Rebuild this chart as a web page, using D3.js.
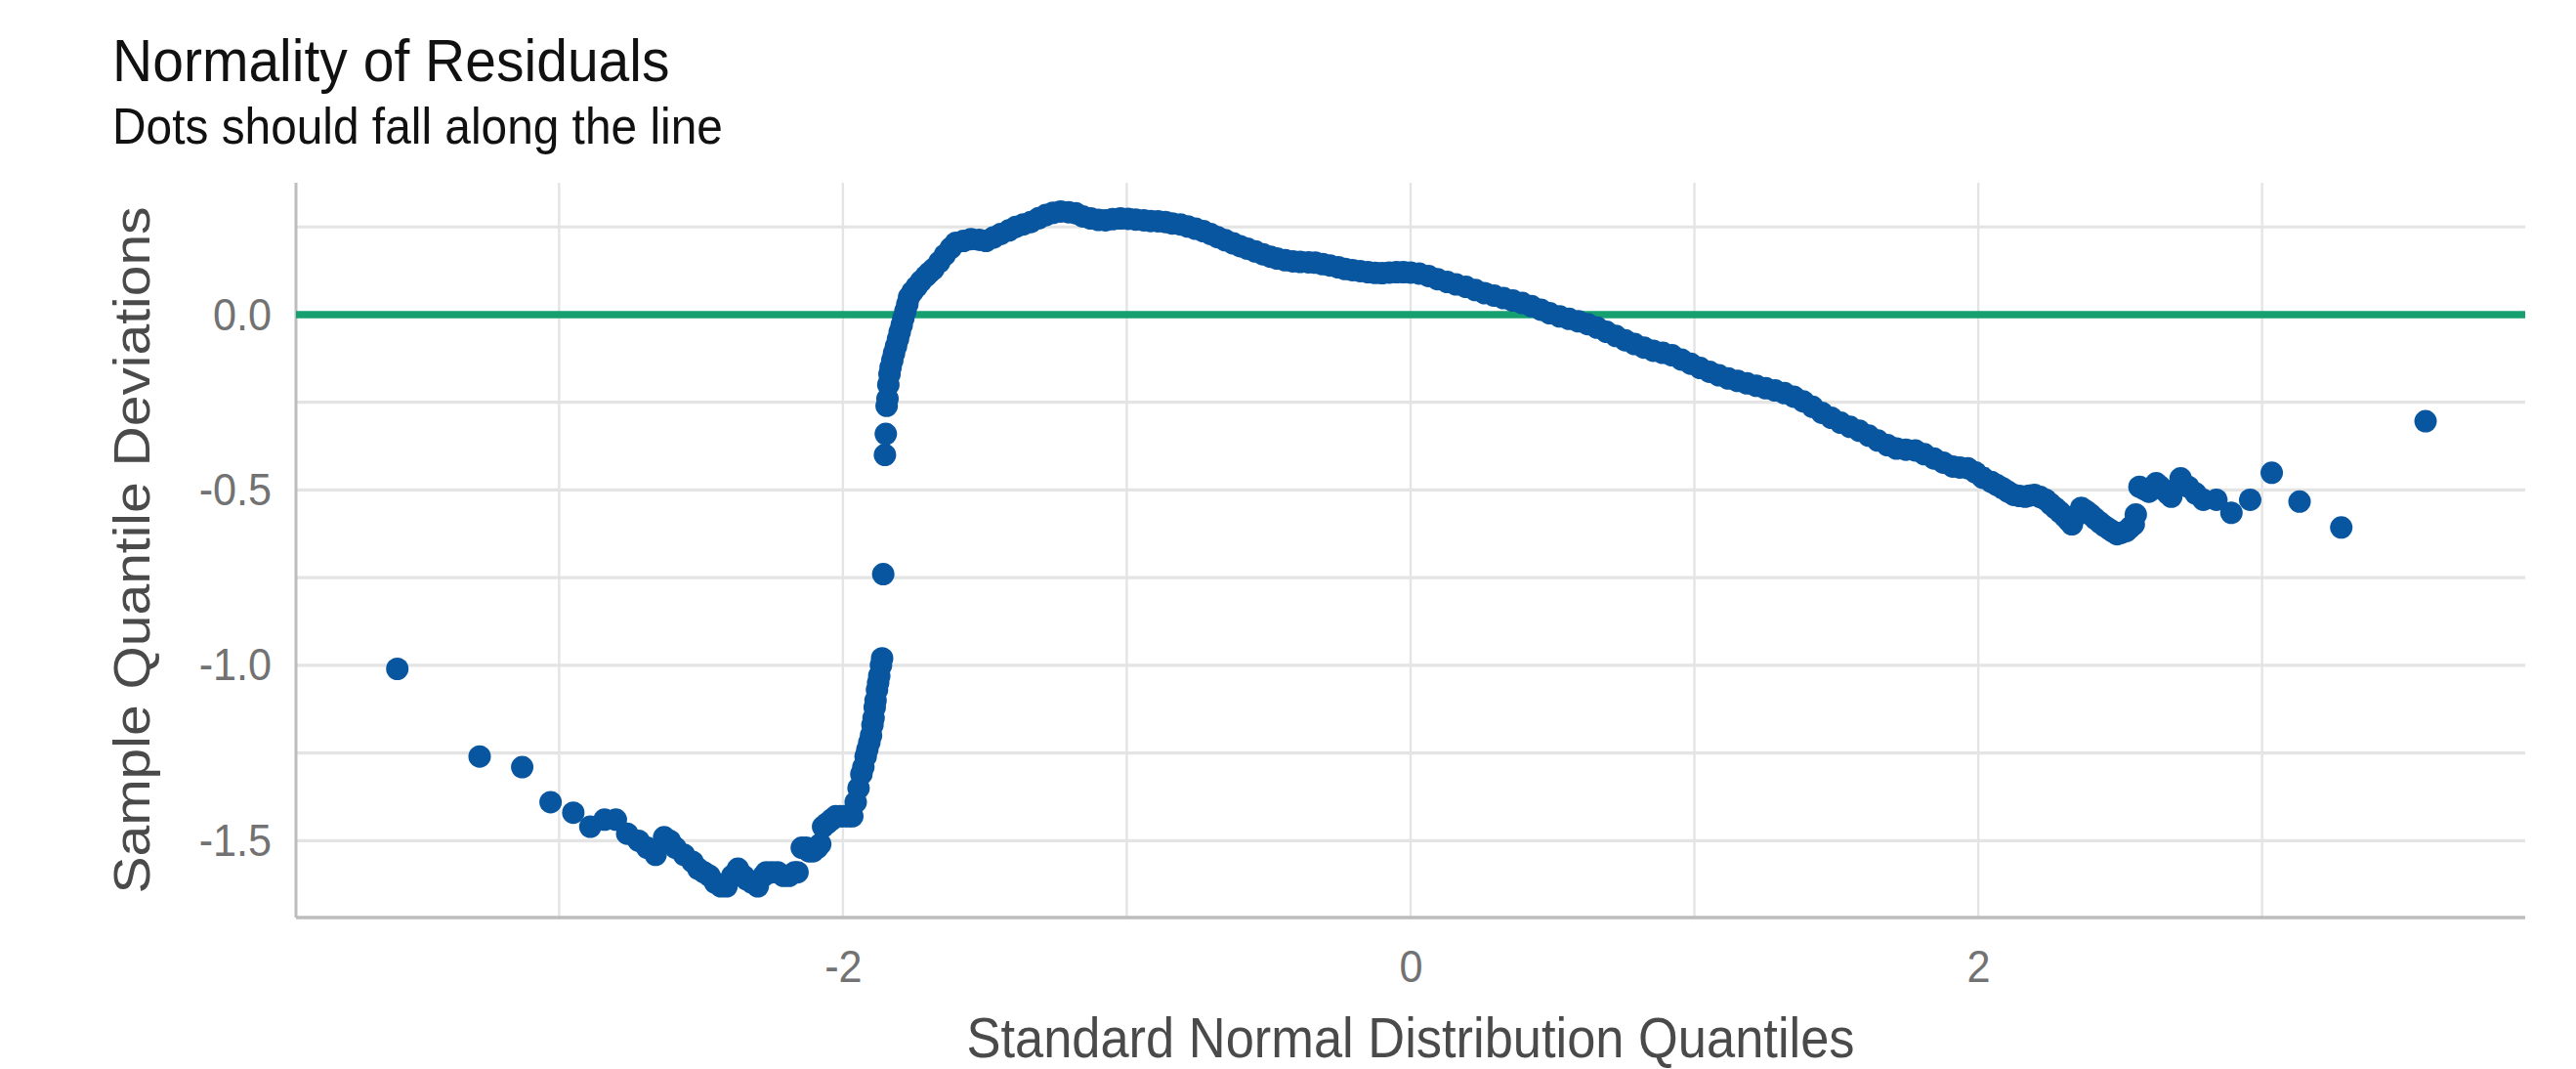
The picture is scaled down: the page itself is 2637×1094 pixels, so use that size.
<!DOCTYPE html>
<html>
<head>
<meta charset="utf-8">
<script src="https://cdn.jsdelivr.net/npm/d3@7"></script>
<style>
  body { margin: 0; background: #fff; }
  text { font-family: "Liberation Sans", Arial, Helvetica, sans-serif; }
</style>
</head>
<body>
<div id="chart"></div>
<script>
// theoretical quantiles (x) and sample quantile deviations (y)
var qx = [-3.57, -3.28, -3.13, -3.03, -2.95, -2.89, -2.84, -2.80, -2.76, -2.72, -2.69, -2.66,
  -2.63, -2.61, -2.59, -2.56, -2.53, -2.51, -2.49, -2.47, -2.45, -2.43, -2.41, -2.39, -2.37,
  -2.35, -2.34, -2.32, -2.30, -2.28, -2.27, -2.25, -2.23, -2.21, -2.19, -2.17, -2.16, -2.145,
  -2.13, -2.12, -2.105, -2.09, -2.08, -2.07, -2.055, -2.04, -2.025, -2.01, -1.995, -1.98,
  -1.967, -1.955, -1.945, -1.935, -1.928, -1.92, -1.914, -1.907, -1.901, -1.896, -1.892,
  -1.888, -1.885, -1.88, -1.876, -1.872, -1.866, -1.862, -1.858, -1.852, -1.849, -1.846,
  -1.843, -1.84, -1.836, -1.832, -1.826, -1.82, -1.813, -1.806, -1.80, -1.793, -1.787, -1.78,
  -1.773, -1.767, -1.755, -1.74, -1.725, -1.707, -1.695, -1.681, -1.66, -1.641, -1.62, -1.602,
  -1.575, -1.549, -1.52, -1.496, -1.47, -1.444, -1.415, -1.391, -1.365, -1.338, -1.31, -1.285,
  -1.26, -1.233, -1.205, -1.18, -1.155, -1.127, -1.10, -1.075, -1.05, -1.022, -0.995, -0.969,
  -0.94, -0.916, -0.89, -0.864, -0.84, -0.811, -0.785, -0.758, -0.73, -0.705, -0.68, -0.653,
  -0.625, -0.60, -0.575, -0.547, -0.52, -0.494, -0.47, -0.442, -0.415, -0.389, -0.36, -0.336,
  -0.31, -0.284, -0.255, -0.231, -0.205, -0.178, -0.15, -0.125, -0.10, -0.075, -0.05, -0.025,
  0.0, 0.03, 0.063, 0.095, 0.129, 0.16, 0.195, 0.228, 0.261, 0.294, 0.327, 0.36, 0.393, 0.426,
  0.459, 0.49, 0.525, 0.558, 0.591, 0.624, 0.657, 0.69, 0.723, 0.756, 0.789, 0.822, 0.855,
  0.888, 0.921, 0.954, 0.987, 1.02, 1.053, 1.086, 1.119, 1.152, 1.185, 1.218, 1.251, 1.284,
  1.317, 1.35, 1.383, 1.416, 1.449, 1.482, 1.515, 1.548, 1.581, 1.614, 1.646, 1.68, 1.712,
  1.745, 1.778, 1.81, 1.844, 1.877, 1.91, 1.935, 1.963, 1.99, 2.016, 2.046, 2.066, 2.086,
  2.105, 2.125, 2.145, 2.165, 2.18, 2.198, 2.218, 2.238, 2.255, 2.271, 2.288, 2.304, 2.318,
  2.33, 2.345, 2.363, 2.38, 2.396, 2.412, 2.429, 2.445, 2.462, 2.475, 2.489, 2.505, 2.522,
  2.535, 2.548, 2.555, 2.568, 2.585, 2.601, 2.614, 2.627, 2.64, 2.654, 2.668, 2.68, 2.713,
  2.74, 2.766, 2.793, 2.839, 2.892, 2.958, 3.034, 3.132, 3.279, 3.576];

var qy = [-1.01, -1.26, -1.29, -1.39, -1.42, -1.46, -1.44, -1.44, -1.48, -1.50, -1.52, -1.54,
  -1.49, -1.50, -1.52, -1.54, -1.56, -1.58, -1.59, -1.60, -1.62, -1.63, -1.63, -1.60, -1.58,
  -1.60, -1.61, -1.62, -1.63, -1.60, -1.59, -1.59, -1.59, -1.60, -1.60, -1.59, -1.59, -1.52,
  -1.52, -1.53, -1.53, -1.52, -1.51, -1.46, -1.45, -1.44, -1.43, -1.43, -1.43, -1.43,
  -1.43, -1.39, -1.35, -1.31, -1.29, -1.26, -1.24, -1.22, -1.20, -1.17, -1.15,
  -1.12, -1.10, -1.07, -1.05, -1.03, -1.00, -0.98, -0.74, -0.40, -0.34, -0.26,
  -0.24, -0.20, -0.17, -0.15, -0.13, -0.11, -0.09, -0.07, -0.05, -0.03, -0.01, 0.01,
  0.03, 0.05, 0.065, 0.08, 0.095, 0.11, 0.12, 0.13, 0.15, 0.17, 0.19, 0.205,
  0.21, 0.215, 0.213, 0.21, 0.22, 0.23, 0.24, 0.25, 0.257, 0.264, 0.275, 0.284,
  0.29, 0.294, 0.292, 0.289, 0.28, 0.274, 0.27, 0.269, 0.272, 0.274, 0.273, 0.271,
  0.269, 0.267, 0.266, 0.264, 0.26, 0.257, 0.251, 0.245, 0.238, 0.23, 0.221, 0.212,
  0.203, 0.195, 0.188, 0.18, 0.172, 0.165, 0.16, 0.155, 0.152, 0.15, 0.149, 0.148,
  0.144, 0.14, 0.135, 0.13, 0.127, 0.124, 0.121, 0.119, 0.118, 0.12, 0.121, 0.121,
  0.12, 0.117, 0.11, 0.101, 0.093, 0.086, 0.079, 0.07, 0.061, 0.054, 0.047, 0.04, 0.033, 0.024,
  0.014, 0.004, -0.005, -0.012, -0.019, -0.027, -0.037, -0.049, -0.061, -0.073, -0.084, -0.094, -0.103,
  -0.109, -0.116, -0.128, -0.14, -0.152, -0.163, -0.173, -0.182, -0.189, -0.196, -0.203, -0.21, -0.216,
  -0.224, -0.234, -0.247, -0.263, -0.28, -0.294, -0.308, -0.32, -0.331, -0.345, -0.359, -0.372, -0.382,
  -0.385, -0.387, -0.398, -0.41, -0.422, -0.433, -0.436, -0.438, -0.45, -0.465, -0.477, -0.486, -0.495,
  -0.505, -0.514, -0.517, -0.519, -0.516, -0.514, -0.52, -0.528, -0.54, -0.551, -0.563, -0.575, -0.587,
  -0.598, -0.573, -0.551, -0.56, -0.57, -0.582, -0.593, -0.603, -0.612, -0.619, -0.626, -0.622, -0.617,
  -0.607, -0.598, -0.57, -0.491, -0.498, -0.505, -0.493, -0.481, -0.49, -0.5, -0.51, -0.519, -0.467,
  -0.491, -0.51, -0.528, -0.528, -0.565, -0.528, -0.451, -0.533, -0.607, -0.304];

var xTicks = [-2, 0, 2];
var xMinor = [-3, -1, 1, 3];
var yTicks = [-1.5, -1.0, -0.5, 0.0];
var yMinor = [-1.25, -0.75, -0.25, 0.25];
var refLine = [0];

var titleText = "Normality of Residuals";
var subtitleText = "Dots should fall along the line";
var xTitle = "Standard Normal Distribution Quantiles";
var yTitle = "Sample Quantile Deviations";

//chart setup
var svgWidth = 2637;
var svgHeight = 1094;
var margin = { top: 187, right: 52, bottom: 155, left: 303 };
var width = svgWidth - margin.left - margin.right;
var height = svgHeight - margin.top - margin.bottom;
var squash = "scale(0.92,1)";

var points = qx.map(function(d, i) { return { x: d, y: qy[i] }; });

var svg = d3.select("#chart")
  .append("svg")
  .attr("width", svgWidth)
  .attr("height", svgHeight);

var chartGroup = svg.append("g")
  .attr("transform", `translate(${margin.left}, ${margin.top})`);

var xScale = d3.scaleLinear().domain([-3.927, 3.927]).range([0, width]);
var yScale = d3.scaleLinear().domain([-1.719, 0.376]).range([height, 0]);

// grid
chartGroup.selectAll(".hgrid")
  .data(yTicks.concat(yMinor))
  .enter().append("line")
  .attr("x1", 0).attr("x2", width)
  .attr("y1", d => yScale(d)).attr("y2", d => yScale(d))
  .attr("stroke", "#e4e4e4").attr("stroke-width", 3.2);

chartGroup.selectAll(".vgrid")
  .data(xTicks.concat(xMinor))
  .enter().append("line")
  .attr("x1", d => xScale(d)).attr("x2", d => xScale(d))
  .attr("y1", 0).attr("y2", height)
  .attr("stroke", "#e4e4e4").attr("stroke-width", 2.4);

// axes (labels only, lines drawn below)
var bottomAxis = d3.axisBottom(xScale)
  .tickValues(xTicks).tickSize(0).tickPadding(33)
  .tickFormat(d => String(d));
var leftAxis = d3.axisLeft(yScale)
  .tickValues(yTicks).tickSize(0).tickPadding(27)
  .tickFormat(d => d.toFixed(1));

var xAxis = chartGroup.append("g")
  .attr("transform", `translate(0, ${height})`)
  .call(bottomAxis);
var yAxis = chartGroup.append("g").call(leftAxis);

[xAxis, yAxis].forEach(function(ax) {
  ax.select(".domain").remove();
  ax.selectAll("text")
    .attr("font-size", 47)
    .attr("fill", "#727272")
    .attr("font-family", "Liberation Sans, Arial, sans-serif")
    .attr("transform", squash);
});

// axis lines
chartGroup.append("line")
  .attr("x1", 0).attr("x2", 0).attr("y1", 0).attr("y2", height)
  .attr("stroke", "#bdbdbd").attr("stroke-width", 3);
chartGroup.append("line")
  .attr("x1", 0).attr("x2", width).attr("y1", height).attr("y2", height)
  .attr("stroke", "#bdbdbd").attr("stroke-width", 3.5);

// reference line
chartGroup.selectAll(".ref")
  .data(refLine)
  .enter().append("line")
  .attr("x1", 0).attr("x2", width)
  .attr("y1", d => yScale(d)).attr("y2", d => yScale(d))
  .attr("stroke", "#17a06f").attr("stroke-width", 7.5);

// dots
chartGroup.selectAll("circle")
  .data(points)
  .enter().append("circle")
  .attr("cx", d => xScale(d.x))
  .attr("cy", d => yScale(d.y))
  .attr("r", 11.5)
  .attr("fill", "#0956a0");

// titles
svg.append("text")
  .attr("transform", `translate(115, 83) ${squash}`)
  .attr("font-size", 62).attr("fill", "#111")
  .text(titleText);
svg.append("text")
  .attr("transform", `translate(115, 147) ${squash}`)
  .attr("font-size", 52).attr("fill", "#111")
  .text(subtitleText);

svg.append("text")
  .attr("transform", `translate(${margin.left + width / 2}, 1082) ${squash}`)
  .attr("text-anchor", "middle")
  .attr("font-size", 57).attr("fill", "#4a4a4a")
  .text(xTitle);

svg.append("text")
  .attr("transform", `translate(153, ${margin.top + height / 2}) rotate(-90) scale(1,0.92)`)
  .attr("text-anchor", "middle")
  .attr("font-size", 57).attr("fill", "#4a4a4a")
  .text(yTitle);
</script>
</body>
</html>
